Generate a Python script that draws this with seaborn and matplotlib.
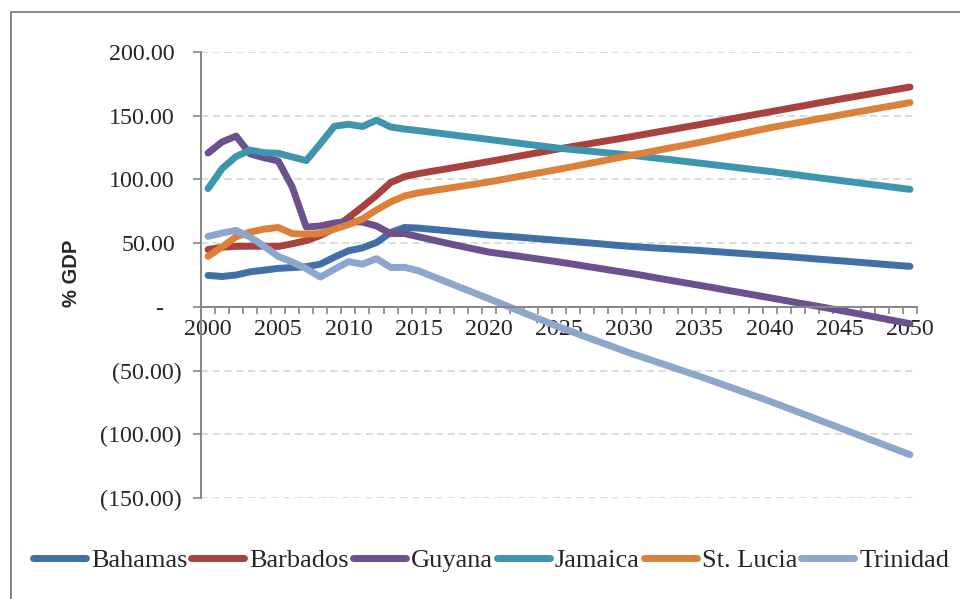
import numpy as np
import pandas as pd
import matplotlib
matplotlib.use("Agg")
import matplotlib.pyplot as plt
import matplotlib.ticker as mticker
from matplotlib.lines import Line2D
from matplotlib.transforms import ScaledTranslation
import seaborn as sns

years = list(range(2000, 2051))

bahamas = [24.7, 23.8, 25.0, 27.5, 28.8, 30.2, 30.8, 31.5, 33.5, 39.0,
           44.0, 46.3, 50.5, 58.3, 62.3, 61.8, 60.8, 59.8, 58.7, 57.5,
           56.4, 55.6, 54.8, 53.9, 53.0, 52.1, 51.2, 50.3, 49.4, 48.4,
           47.5, 46.8, 46.1, 45.5, 44.9, 44.3, 43.5, 42.7, 41.9, 41.1,
           40.4, 39.6, 38.8, 37.9, 37.0, 36.2, 35.3, 34.4, 33.5, 32.6,
           31.8]

barbados = [45.0, 46.8, 47.5, 47.6, 47.6, 47.4, 49.5, 52.0, 56.0, 61.5,
            70.0, 78.5, 87.5, 97.5, 102.2, 104.6, 106.5, 108.3, 110.2, 112.1,
            114.0, 116.0, 118.0, 120.0, 122.0, 124.0, 125.9, 127.7, 129.6, 131.4,
            133.3, 135.2, 137.2, 139.1, 141.1, 143.0, 145.0, 147.0, 149.0, 151.0,
            153.0, 155.0, 157.0, 159.0, 161.0, 163.0, 164.9, 166.8, 168.7, 170.6,
            172.5]

guyana = [120.7, 129.4, 134.0, 120.0, 117.0, 114.5, 94.0, 62.6, 63.5, 65.8,
          67.0, 66.5, 63.5, 57.5, 57.5, 55.0, 52.5, 50.0, 47.6, 45.3,
          43.0, 41.5, 40.0, 38.4, 36.8, 35.2, 33.5, 31.7, 30.0, 28.2,
          26.5, 24.6, 22.6, 20.7, 18.8, 16.9, 15.0, 13.0, 11.1, 9.1,
          7.2, 5.2, 3.2, 1.3, -0.7, -2.7, -4.8, -6.9, -9.0, -11.1,
          -13.2]

jamaica = [92.8, 108.5, 118.0, 123.0, 121.0, 120.5, 117.6, 114.8, 128.0, 141.7,
           143.3, 141.5, 146.5, 141.2, 139.5, 138.3, 136.9, 135.5, 134.1, 132.8,
           131.4, 130.0, 128.6, 127.2, 125.9, 124.5, 123.4, 122.4, 121.3, 120.3,
           119.2, 117.9, 116.6, 115.4, 114.1, 112.8, 111.5, 110.2, 108.9, 107.6,
           106.3, 104.9, 103.5, 102.0, 100.6, 99.2, 97.8, 96.4, 95.0, 93.6,
           92.2]

st_lucia = [39.6, 47.0, 55.0, 58.7, 61.0, 62.3, 57.5, 57.0, 57.5, 61.0,
            64.5, 69.0, 76.0, 82.3, 87.0, 89.5, 91.2, 92.9, 94.6, 96.3,
            98.0, 100.0, 102.0, 104.0, 106.0, 108.0, 110.1, 112.2, 114.3, 116.5,
            118.6, 120.7, 122.8, 124.9, 126.9, 129.0, 131.3, 133.6, 135.9, 138.2,
            140.5, 142.5, 144.5, 146.5, 148.5, 150.5, 152.5, 154.4, 156.4, 158.3,
            160.3]

trinidad = [55.3, 57.9, 60.0, 54.8, 47.5, 39.6, 35.2, 30.0, 23.4, 29.5,
            35.5, 33.5, 37.8, 31.0, 31.0, 28.3, 23.9, 19.5, 15.1, 10.8,
            6.4, 2.0, -2.5, -6.9, -11.4, -15.8, -19.8, -23.9, -27.9, -32.0,
            -36.0, -39.7, -43.4, -47.1, -50.8, -54.5, -58.4, -62.3, -66.2, -70.1,
            -74.0, -78.2, -82.4, -86.6, -90.8, -95.0, -99.2, -103.4, -107.6, -111.8,
            -116.0]

countries = ["Bahamas", "Barbados", "Guyana", "Jamaica", "St. Lucia", "Trinidad"]
series = [bahamas, barbados, guyana, jamaica, st_lucia, trinidad]
colors = ["#4170A7", "#A8423F", "#6D518E", "#3D96AE", "#DD8039", "#8DA6CE"]

y_ticks = [-150, -100, -50, 0, 50, 100, 150, 200]
x_label_years = list(range(2000, 2051, 5))

df = pd.DataFrame({
    "Year": np.tile(years, len(countries)),
    "Country": np.repeat(countries, len(years)),
    "Debt": np.concatenate([np.asarray(s, dtype=float) for s in series]),
})

sns.set_style("white")
plt.rcParams["font.family"] = ["Liberation Serif", "DejaVu Serif"]
plt.rcParams["lines.solid_capstyle"] = "round"
plt.rcParams["lines.solid_joinstyle"] = "round"

W, H = 960, 599
fig = plt.figure(figsize=(W / 100, H / 100), dpi=100)
ax = fig.add_axes([201 / W, (H - 498) / H, (917 - 201) / W, 446 / H])

sns.lineplot(data=df, x="Year", y="Debt", hue="Country", hue_order=countries,
             palette=dict(zip(countries, colors)), linewidth=5.0,
             ax=ax, legend=True)

ax.set_xlim(1999.5, 2050.5)
ax.set_ylim(-150, 200)

grey = "#868686"
for side in ("top", "right"):
    ax.spines[side].set_visible(False)
ax.spines["left"].set_color(grey)
ax.spines["left"].set_linewidth(1.4)
ax.spines["bottom"].set_position(("data", 0))
ax.spines["bottom"].set_color(grey)
ax.spines["bottom"].set_linewidth(1.4)
ax.spines["bottom"].set_zorder(5)

# horizontal dashed gridlines
ax.set_yticks(y_ticks)
ax.yaxis.grid(True, color="#D9D9D9", linestyle=(0, (4, 2.5)), linewidth=1.3)
ax.xaxis.grid(False)
ax.set_axisbelow(True)


def fmt(v, pos):
    if v > 0:
        return f"{v:.2f}"
    if v == 0:
        return "-"
    return f"({-v:.2f})"


ax.yaxis.set_major_formatter(mticker.FuncFormatter(fmt))
ax.tick_params(axis="y", which="major", direction="out", length=5.8, width=1.2,
               color=grey, pad=8, labelsize=17.3, left=True)
# accounting-style alignment: positives leave room for the closing parenthesis
for lab, v in zip(ax.get_yticklabels(), y_ticks):
    if v > 0:
        dx = -7 / 100
    elif v == 0:
        dx = -19 / 100
    else:
        dx = 0
    lab.set_transform(lab.get_transform() + ScaledTranslation(dx, 0, fig.dpi_scale_trans))

# year labels every five years, tick marks between categories
ax.set_xticks(x_label_years)
ax.set_xticklabels([str(y) for y in x_label_years])
ax.set_xticks(np.arange(1999.5, 2051, 1.0), minor=True)
ax.tick_params(axis="x", which="major", length=0, pad=9.0, labelsize=17.3, bottom=True)
ax.tick_params(axis="x", which="minor", direction="out", length=4.7, width=1.2,
               color=grey, bottom=True)

ax.set_xlabel("")
ax.set_ylabel("% GDP", fontsize=14.5, fontweight="bold",
              family=["Liberation Sans", "DejaVu Sans"])
ax.yaxis.set_label_coords((81 - 201) / 716, (498 - 273) / 446)

handles, labels = ax.get_legend_handles_labels()
if ax.get_legend() is not None:
    ax.get_legend().remove()
leg = fig.legend(handles, labels, loc="center", bbox_to_anchor=(491 / W, (H - 560) / H),
                 ncol=6, frameon=False, fontsize=19, handlelength=2.0,
                 handletextpad=0.2, columnspacing=0.15, borderaxespad=0)
for h in leg.legend_handles:
    h.set_linewidth(5.0)
    h.set_solid_capstyle("round")

# outer chart frame (left and top edges fall inside the canvas)
fig.add_artist(Line2D([11 / W, 11 / W], [0, 1 - 12 / H], transform=fig.transFigure,
                      color=grey, linewidth=1.4))
fig.add_artist(Line2D([11 / W, 1], [1 - 12 / H, 1 - 12 / H], transform=fig.transFigure,
                      color=grey, linewidth=1.4))

fig.savefig("out.png", dpi=100)
